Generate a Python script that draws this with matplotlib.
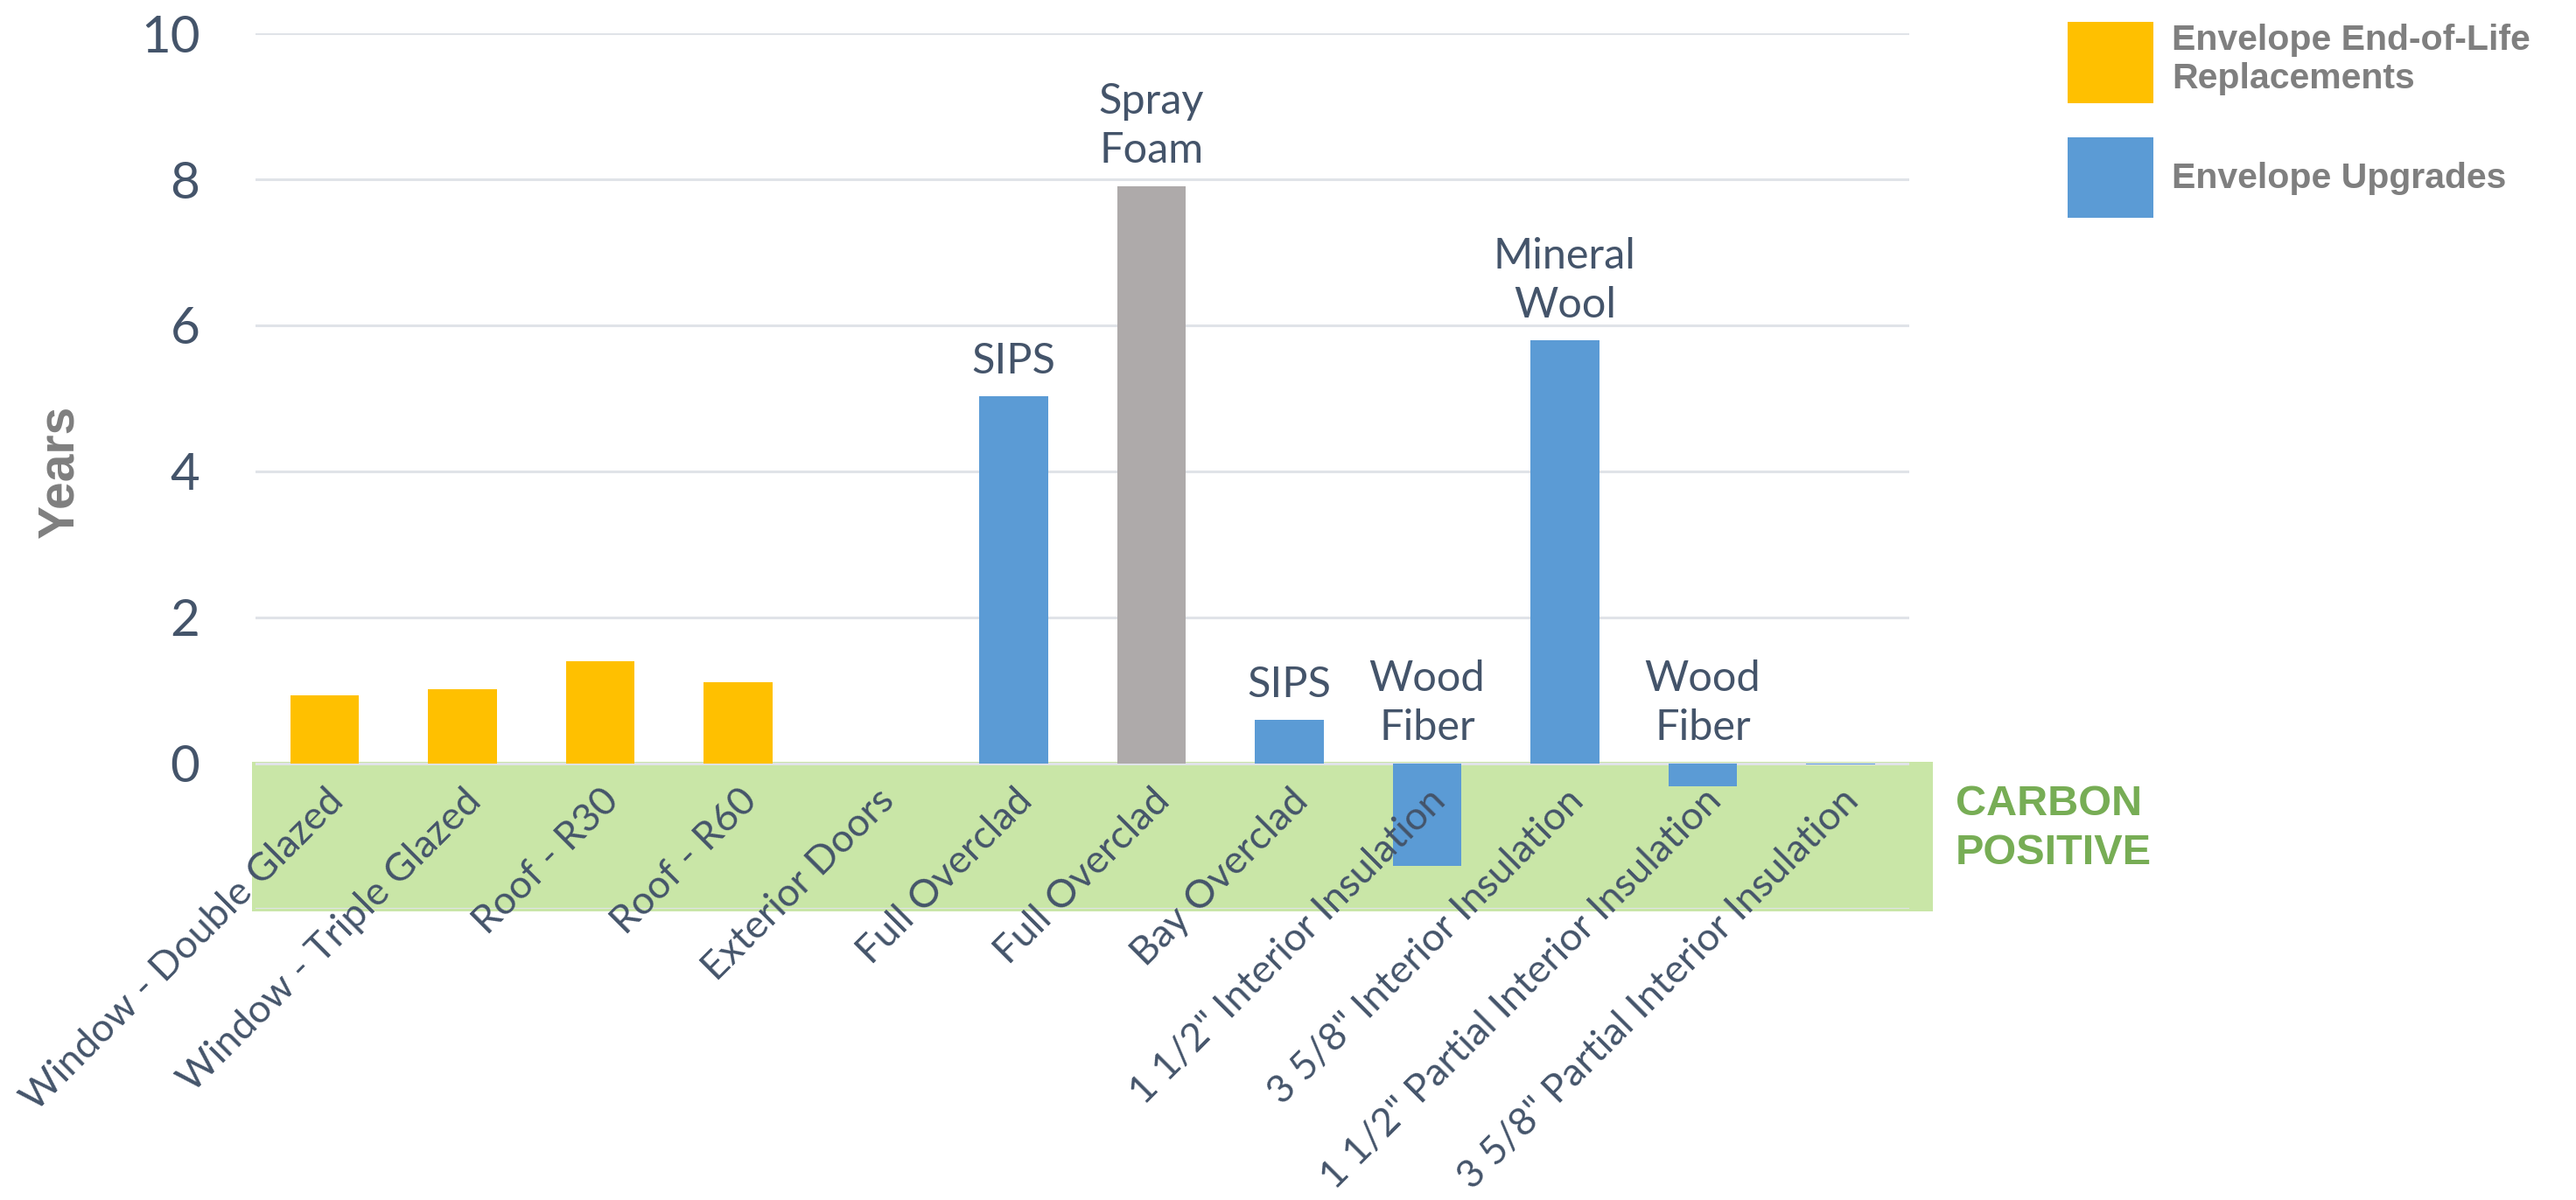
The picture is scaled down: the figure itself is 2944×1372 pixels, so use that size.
import matplotlib.pyplot as plt
from matplotlib.patches import Patch, Rectangle
import numpy as np

categories = ['Window - Double Glazed', 'Window - Triple Glazed', 'Roof - R30',
              'Roof - R60', 'Exterior Doors', 'Full Overclad', 'Full Overclad',
              'Bay Overclad', '1 1/2" Interior Insulation', '3 5/8" Interior Insulation',
              '1 1/2" Partial Interior Insulation', '3 5/8" Partial Interior Insulation']
years = [0.93, 1.01, 1.40, 1.11, 0.0, 5.03, 7.91, 0.59, -1.41, 5.79, -0.32, -0.02]
groups = ['eol', 'eol', 'eol', 'eol', 'eol', 'upg', 'spray', 'upg', 'upg', 'upg', 'upg', 'upg']
bar_notes = ['', '', '', '', '', 'SIPS', 'Spray\nFoam', 'SIPS', 'Wood\nFiber',
             'Mineral\nWool', 'Wood\nFiber', '']
legend_labels = {'eol': 'Envelope End-of-Life\nReplacements', 'upg': 'Envelope Upgrades'}

colors = {'eol': '#FFC000', 'upg': '#5B9BD5', 'spray': '#AEAAAA'}
text_col = '#44546A'
font = 'Lato'

fig = plt.figure(figsize=(29.44, 13.72), dpi=100)
ax = fig.add_axes([0.0993, 0.2424, 0.6419, 0.7298])

for s in ax.spines.values():
    s.set_visible(False)
ax.spines['bottom'].set_position(('data', 0))  # category labels hang from the zero line

x = np.arange(len(categories))
ax.bar(x, years, 0.5, color=[colors[g] for g in groups], zorder=1)

# carbon positive zone below zero
ax.add_patch(Rectangle((-0.527, -2.03), 12.2, 2.05, facecolor='#C9E6A7',
                       edgecolor='none', zorder=0.2, clip_on=False))

for xi, v, note in zip(x, years, bar_notes):
    if note:
        ax.annotate(note, (xi, max(v, 0)), xytext=(0, 13), textcoords='offset points',
                    ha='center', va='bottom', fontsize=35, family=font,
                    color=text_col, linespacing=1.35)

ax.set_xlim(-0.5, 11.5)
ax.set_ylim(-2, 10)
ax.set_yticks(np.arange(-2, 11, 2))
ax.set_yticklabels([''] + [str(t) for t in range(0, 11, 2)],
                   fontsize=42, family=font, color=text_col)
ax.set_xticks(x)
ax.set_xticklabels(categories, rotation=45, ha='right', rotation_mode='anchor',
                   fontsize=32.5, family=font, color=text_col)
ax.tick_params(axis='both', length=0)
ax.tick_params(axis='y', pad=46)
ax.tick_params(axis='x', pad=16)

ax.grid(axis='y', color='#E0E3E8', linewidth=2.2)
ax.set_axisbelow(True)
ax.xaxis.set_zorder(2.5)  # category labels sit on top of the negative bars

ax.set_ylabel('Years', fontsize=41, fontweight='bold', color='#7F7F7F',
              family='Liberation Sans')
ax.yaxis.set_label_coords(-0.104, 0.5)

handles = [Patch(facecolor=colors['eol']), Patch(facecolor=colors['upg'])]
leg = fig.legend(handles, [legend_labels['eol'], legend_labels['upg']],
                 loc='upper left', bbox_to_anchor=(2363 / 2944, 1 - 25 / 1372),
                 frameon=False, borderpad=0, borderaxespad=0, handlelength=2.4,
                 handleheight=3.1, handletextpad=0.5, labelspacing=0.95,
                 prop={'family': 'Liberation Sans', 'weight': 'bold', 'size': 29.5})
for t in leg.get_texts():
    t.set_color('#7F7F7F')

fig.text(2235 / 2944, 1 - 897 / 1372, 'CARBON\nPOSITIVE', ha='left', va='top',
         fontsize=35, fontweight='bold', color='#77AD55', family='Liberation Sans',
         linespacing=1.3)

fig.savefig('out.png', dpi=100)
